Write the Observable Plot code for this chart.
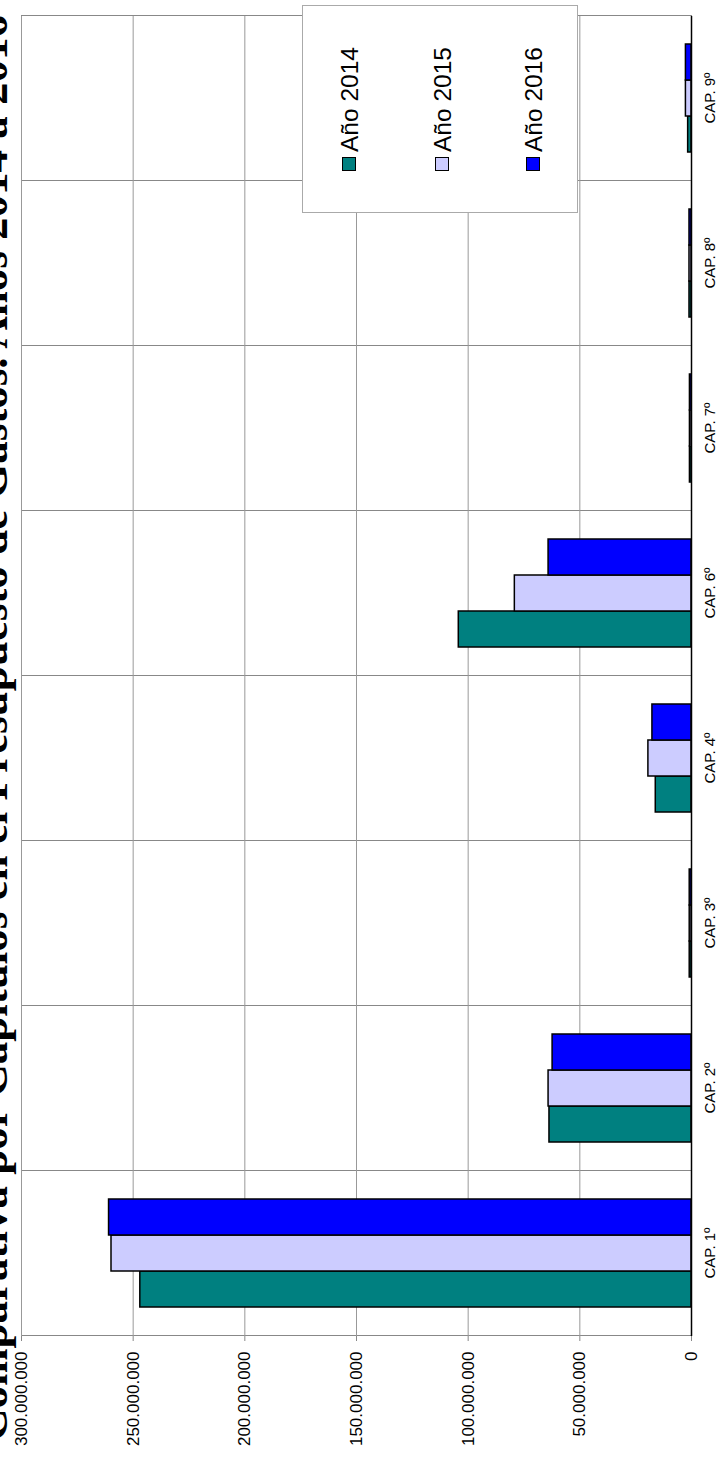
<!DOCTYPE html>
<html><head><meta charset="utf-8">
<script src="https://cdn.jsdelivr.net/npm/d3@7"></script>
<script src="https://cdn.jsdelivr.net/npm/@observablehq/plot@0.6"></script>
<style>
html,body{margin:0;padding:0;background:#fff;overflow:hidden;width:723px;height:1459px;}
#stage{position:absolute;left:0;top:0;width:1459px;height:723px;transform-origin:0 0;transform:translateY(1459px) rotate(-90deg);background:#fff;}
#title{position:absolute;left:0;top:-30px;width:1462px;text-align:center;font:bold 45px "Liberation Serif","Times New Roman",serif;line-height:45px;white-space:nowrap;}
#chart{position:absolute;left:0;top:0;}
#legend{position:absolute;left:1246px;top:302px;width:208px;height:276px;border:1px solid #aaa;box-sizing:border-box;background:#fff;}
.sw{position:absolute;width:14px;height:14px;box-sizing:border-box;border:1.5px solid #000;}
.lt{position:absolute;font:24.5px "Liberation Sans",Arial,sans-serif;line-height:24.5px;white-space:nowrap;}
</style></head>
<body>
<div id="stage">
  <div id="chart"></div>
  <div id="title"></div>
  <div id="legend"></div>
</div>
<script>
const titleText = "Comparativa por Capítulos en el Presupuesto de Gastos. Años 2014 a 2016";
const caps = ["CAP. 1º","CAP. 2º","CAP. 3º","CAP. 4º","CAP. 6º","CAP. 7º","CAP. 8º","CAP. 9º"];
const years = ["Año 2014","Año 2015","Año 2016"];
const v2014 = [246.8e6, 63.6e6, 0.8e6, 16.0e6, 104.2e6, 0.7e6, 0.9e6, 1.5e6];
const v2015 = [259.7e6, 64.0e6, 0.8e6, 19.3e6, 79.1e6, 0.7e6, 0.9e6, 2.5e6];
const v2016 = [260.8e6, 62.2e6, 0.8e6, 17.5e6, 64.0e6, 0.7e6, 0.9e6, 2.5e6];
const colors = ["#008080","#CCCCFF","#0000FF"];
const yTicks = [0, 50e6, 100e6, 150e6, 200e6, 250e6, 300e6];

const series = [v2014, v2015, v2016];
const data = caps.flatMap((c, i) => years.map((yr, j) => ({cap: c, year: yr, value: series[j][i]})));
const loc = d3.formatLocale({decimal: ",", thousands: ".", grouping: [3], currency: ["", "€"]});
const fmt = loc.format(",.0f");

document.getElementById("title").textContent = titleText;

const chart = Plot.plot({
  width: 1459, height: 723,
  marginLeft: 120, marginRight: 13, marginTop: 21, marginBottom: 32,
  style: {fontFamily: "'Liberation Sans', Arial, sans-serif", background: "transparent", color: "black"},
  fx: {domain: caps, padding: 0, label: null, axis: null},
  x: {domain: years, paddingInner: 0, paddingOuter: 0.76, axis: null},
  y: {domain: [0, 300e6], label: null, axis: null},
  color: {domain: years, range: colors},
  marks: [
    Plot.frame({stroke: "#888"}),
    Plot.gridY({ticks: yTicks.slice(1), stroke: "#999", strokeOpacity: 1}),
    Plot.barY(data, {fx: "cap", x: "year", y: "value", fill: "year", stroke: "black", strokeWidth: 1.5}),
    Plot.ruleY([0], {stroke: "black", strokeWidth: 1.5}),
    Plot.axisY({ticks: yTicks, tickFormat: fmt, tickSize: 5, tickPadding: 11, fontSize: 17, stroke: "#888", label: null}),
    Plot.axisFx({anchor: "bottom", tickSize: 0, tickPadding: 13, fontSize: 15, label: null})
  ]
});
document.getElementById("chart").appendChild(chart);

const legend = document.getElementById("legend");
const rowCenters = [46, 139, 230];
years.forEach((yr, j) => {
  const sw = document.createElement("div");
  sw.className = "sw";
  sw.style.background = colors[j];
  sw.style.left = "41px";
  sw.style.top = (rowCenters[j] - 7) + "px";
  legend.appendChild(sw);
  const t = document.createElement("div");
  t.className = "lt";
  t.textContent = yr;
  t.style.left = "60px";
  t.style.top = (rowCenters[j] - 11.2) + "px";
  legend.appendChild(t);
});
</script>
</body></html>
